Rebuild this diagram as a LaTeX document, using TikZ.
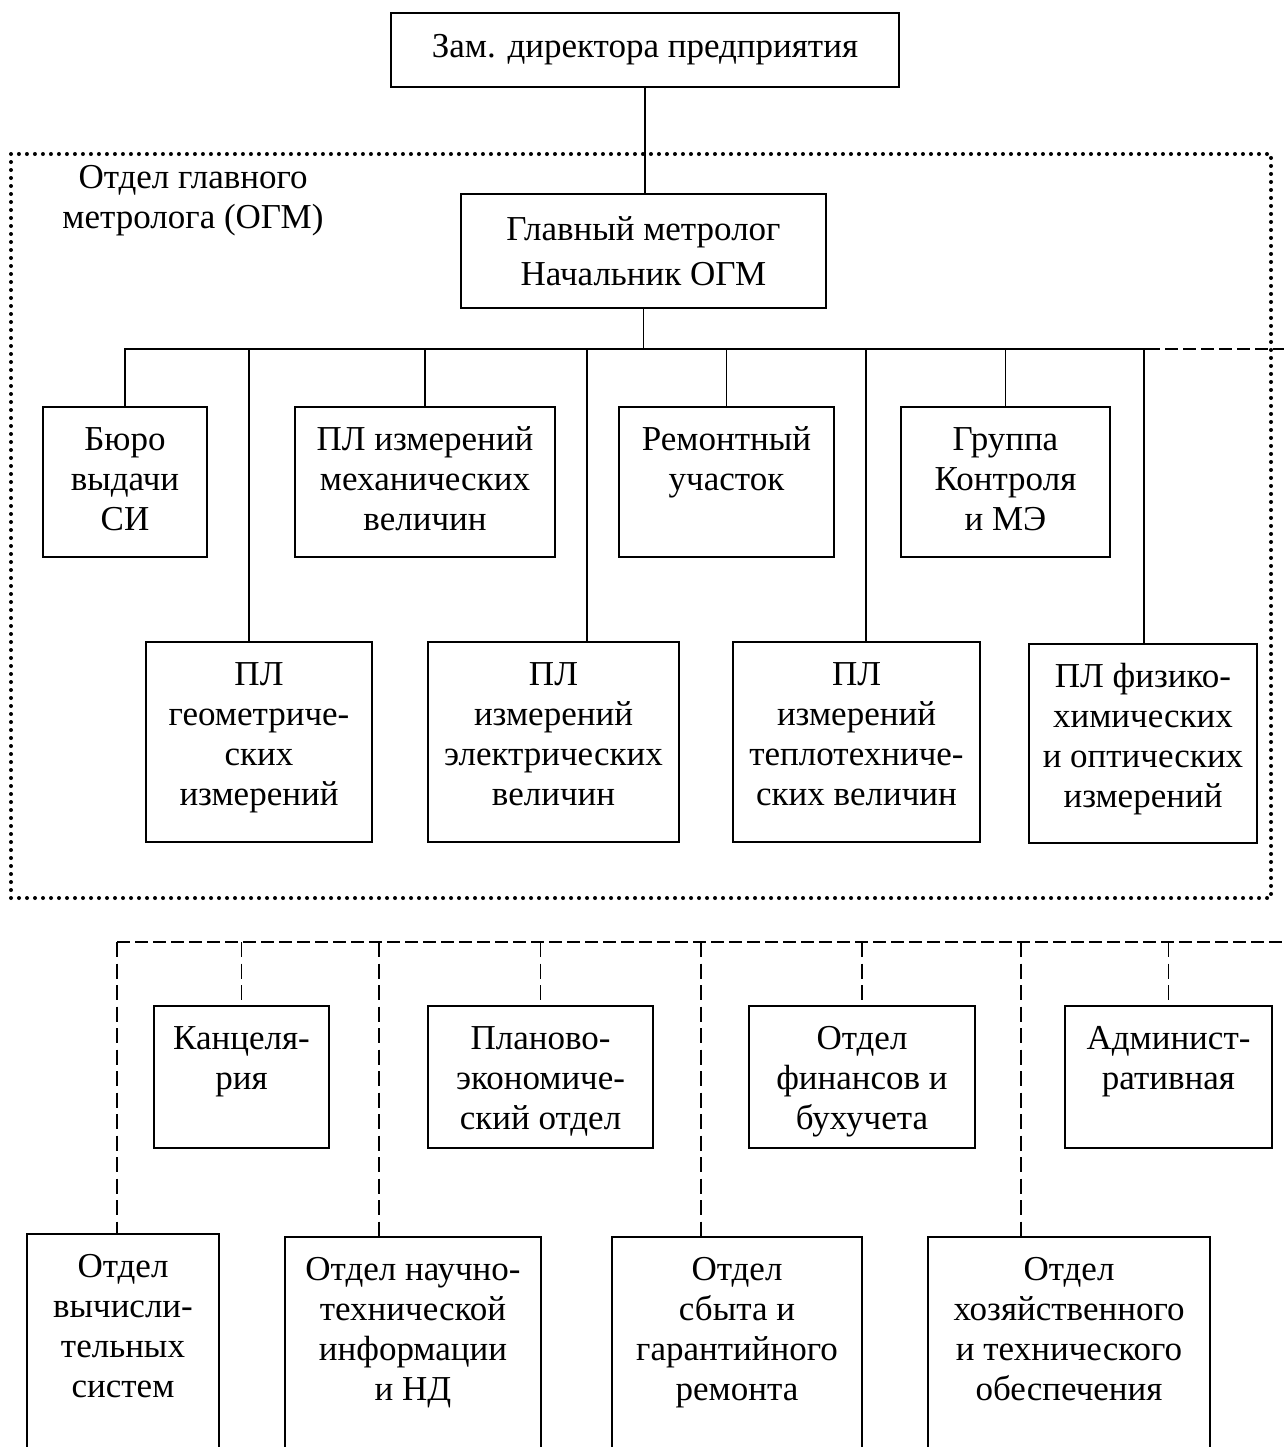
\documentclass[tikz,border=0pt]{standalone}
\usepackage{fontspec}
\setmainfont{Liberation Serif}
\newdimen\unitpx \unitpx=0.4pt
\hyphenpenalty=10000
\exhyphenpenalty=10000
\hbadness=10000
% box with text hung from the top, and box with centred text
\newcommand{\cellbox}[3]{\parbox[c][#2\unitpx][t]{#1\unitpx}{\centering\vspace*{6pt}\strut#3\par}}
\newcommand{\midbox}[3]{\parbox[c][#2\unitpx][c]{#1\unitpx}{\centering#3\par}}

\begin{document}
\begin{tikzpicture}[x=0.4pt, y=-0.4pt,
  every node/.style={font=\fontsize{14pt}{16pt}\selectfont},
  cell/.style={draw, line width=1pt, inner sep=0pt, outer sep=0pt, anchor=north west},
  link/.style={line width=0.5pt},
  dlink/.style={line width=0.5pt, dash pattern=on 6pt off 2.6pt},
  dbus/.style={line width=1.1pt, dash pattern=on 5pt off 2.2pt},
  dotframe/.style={line width=1.6pt, line cap=round, dash pattern=on 0pt off 3.2pt}]
\useasboundingbox (0,0) rectangle (1284,1447);
\clip (0,0) rectangle (1284,1447);

% OGM frame
\draw[dotframe] (11,154) rectangle (1271,898);
\node[align=center] (ogm) at (193,201) {Отдел главного\\метролога (ОГМ)};

% heads
\node[cell] (zam) at (391,13) {\midbox{508}{74}{Зам. директора предприятия}};
\node[cell] (gm) at (461,194) {\midbox{365}{114}{Главный метролог\\[2pt]Начальник ОГМ}};

% laboratories, upper row
\node[cell] (bur) at (43,407) {\cellbox{164}{150}{Бюро\\выдачи\\СИ}};
\node[cell] (mex) at (295,407) {\cellbox{260}{150}{ПЛ измерений\\механических\\величин}};
\node[cell] (rem) at (619,407) {\cellbox{215}{150}{Ремонтный\\участок}};
\node[cell] (grp) at (901,407) {\cellbox{209}{150}{Группа\\Контроля\\и МЭ}};

% laboratories, lower row
\node[cell] (geo) at (146,642) {\cellbox{226}{200}{ПЛ\\геометриче-\\ских\\измерений}};
\node[cell] (ele) at (428,642) {\cellbox{251}{200}{ПЛ\\измерений\\электрических\\величин}};
\node[cell] (tep) at (733,642) {\cellbox{247}{200}{ПЛ\\измерений\\теплотехниче-\\ских величин}};
\node[cell] (fiz) at (1029,644) {\cellbox{228}{199}{ПЛ физико-\\химических\\и оптических\\измерений}};

% other departments
\node[cell] (kan) at (154,1006) {\cellbox{175}{142}{Канцеля-\\рия}};
\node[cell] (pla) at (428,1006) {\cellbox{225}{142}{Планово-\\экономиче-\\ский отдел}};
\node[cell] (fin) at (749,1006) {\cellbox{226}{142}{Отдел\\финансов и\\бухучета}};
\node[cell] (adm) at (1065,1006) {\cellbox{207}{142}{Админист-\\ративная}};

\node[cell] (vyc) at (27,1234) {\cellbox{192}{300}{Отдел\\вычисли-\\тельных\\систем}};
\node[cell] (nti) at (285,1237) {\cellbox{256}{300}{Отдел научно-\\технической\\информации\\и НД}};
\node[cell] (sby) at (612,1237) {\cellbox{250}{300}{Отдел\\сбыта и\\гарантийного\\ремонта}};
\node[cell] (hoz) at (928,1237) {\cellbox{282}{300}{Отдел\\хозяйственного\\и технического\\обеспечения}};

% solid links
\coordinate (hub) at (645,349);
\coordinate (busR) at (1147,349);
\coordinate (offR) at (1290,349);
\draw[link] (zam.south) -- (zam.south |- gm.north);
\draw[link] (gm.south) -- (gm.south |- hub);
\draw[link] (bur.north) |- (busR);
\foreach \b in {mex,rem,grp}
  \draw[link] (\b.north) -- (\b.north |- hub);
\foreach \x/\b in {249/geo,587/ele,866/tep,1144/fiz}{
  \coordinate (d\b) at (\x,349);
  \draw[link] (d\b) -- (d\b |- \b.north);
}

% dashed links
\draw[dbus] (busR) -- (offR);
\coordinate (lbL) at (117,942);
\coordinate (lbR) at (1290,942);
\draw[dbus] (lbL) -- (lbR);
\foreach \b in {kan,pla,fin,adm}
  \draw[dlink] (\b.north |- lbL) -- (\b.north);
\foreach \x/\b in {117/vyc,379/nti,701/sby,1021/hoz}{
  \coordinate (u\b) at (\x,942);
  \draw[dlink] (u\b) -- (u\b |- \b.north);
}
\end{tikzpicture}
\end{document}
